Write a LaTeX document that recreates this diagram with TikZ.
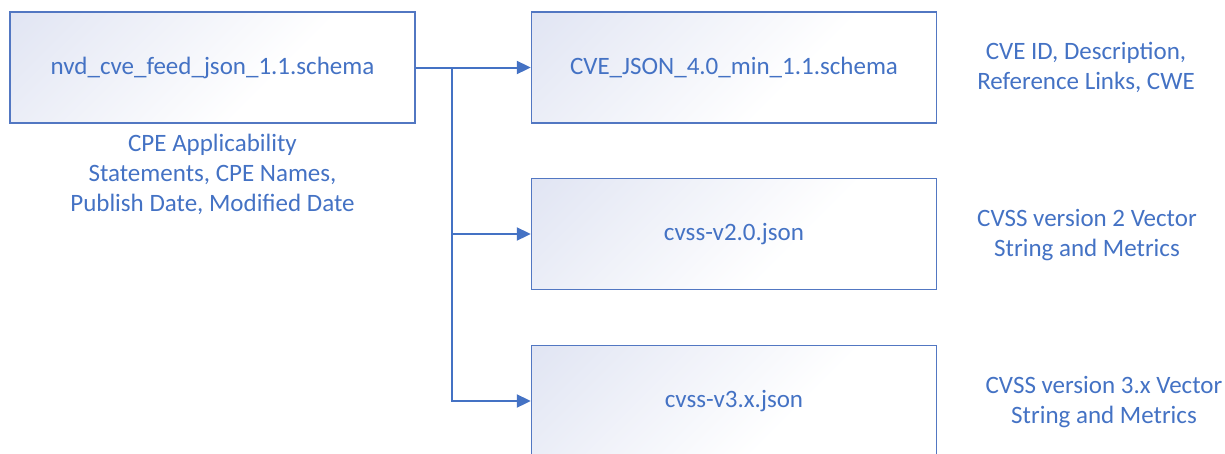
\documentclass[tikz,border=0pt]{standalone}
\usepackage{fontspec}
\setmainfont{Carlito}
\usetikzlibrary{arrows.meta}
\definecolor{office}{HTML}{4472C4}
\definecolor{boxline}{HTML}{5277C2}
\definecolor{boxtint}{HTML}{E1E5F3}
% soft diagonal wash used inside the schema boxes
\pgfdeclareverticalshading{boxwash}{100bp}{color(0bp)=(white); color(40bp)=(white); color(85bp)=(boxtint); color(100bp)=(boxtint)}
\tikzset{
  schemabox/.style={draw=boxline, line width=1.4pt, shading=boxwash,
    shading angle=45,
    minimum width=405pt, minimum height=111pt, inner sep=0pt,
    text=office, font=\fontsize{25}{29}\selectfont},
  note/.style={text=office, align=center, inner sep=0pt,
    font=\fontsize{25}{30}\selectfont},
  link/.style={draw=office, line width=2pt,
    -{Triangle[length=14pt, width=13pt]}}
}
\begin{document}
\begin{tikzpicture}[x=1pt, y=-1pt]
  \useasboundingbox (0,0) rectangle (1225,453);
  \clip (0,0) rectangle (1225,453);

  % the feed schema and its sub-schemas
  \node[schemabox] (feed) at (212.5,67.5) {nvd\_cve\_feed\_json\_1.1.schema};
  \node[schemabox] (cve)  at (734,67.5)  {CVE\_JSON\_4.0\_min\_1.1.schema};
  \node[schemabox] (v2)   at (734,234)   {cvss-v2.0.json};
  \node[schemabox] (v3)   at (734,401)   {cvss-v3.x.json};

  % descriptions of what each schema carries
  \node[note] (feednote) at (212.5,174) {CPE Applicability\\Statements, CPE Names,\\Publish Date, Modified Date};
  \node[note] (cvenote)  at (1086,67.5) {CVE ID, Description,\\Reference Links, CWE};
  \node[note] (v2note)   at (1087,235)  {CVSS version 2 Vector\\String and Metrics};
  \node[note] (v3note)   at (1104,402)  {CVSS version 3.x Vector\\String and Metrics};

  % branching connectors
  \coordinate (split) at (452,67.5);
  \draw[link] (feed.east) -- (cve.west);
  \draw[link] (split) |- (v2.west);
  \draw[link] (split) |- (v3.west);
\end{tikzpicture}
\end{document}
